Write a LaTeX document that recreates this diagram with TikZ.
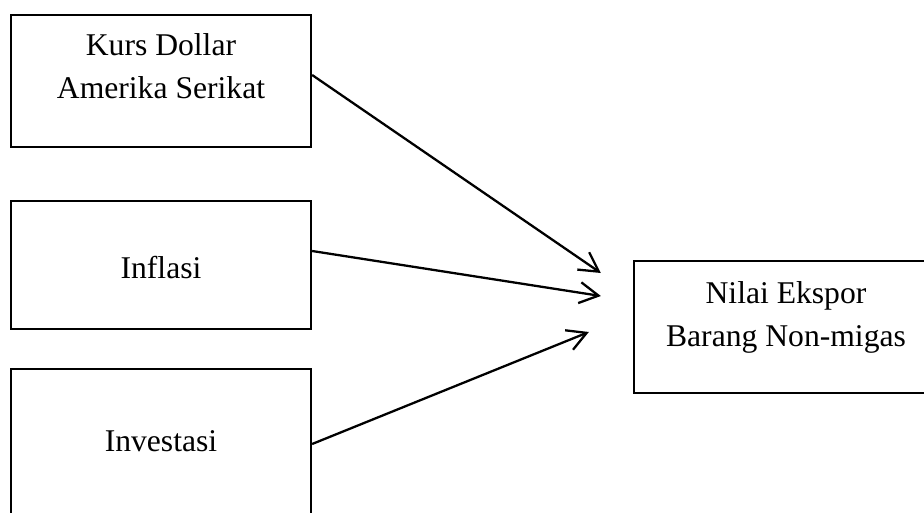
\documentclass[tikz,border=0pt]{standalone}
\usepackage{fontspec}
\setmainfont{Liberation Serif}
\usetikzlibrary{positioning,arrows.meta,calc}

\tikzset{
	box/.style={draw, line width=1.3pt, minimum width=6cm, minimum height=2.64cm, inner sep=0pt},
	boxtext/.style={inner sep=0pt, align=center, font=\fontsize{18pt}{24.8pt}\selectfont},
	arr/.style={line width=1.3pt, -{Straight Barb[length=0.38cm,width=0.42cm,line width=1.3pt]}}
}

\begin{document}
\begin{tikzpicture}
	\useasboundingbox (0,0) rectangle (18.48,10.24);
	\node[box] (kurs) at (3.22,8.62) {};
	\node[box, minimum height=2.56cm] (inflasi) at (3.22,4.94) {};
	\node[box, minimum height=3cm] (investasi) at (3.22,1.36) {};
	\node[box, minimum width=6.08cm] (nilai) at (15.72,3.70) {};
	\node[boxtext, below=0.38cm of kurs.north] (kurstext) {Kurs Dollar\\Amerika Serikat};
	\node[boxtext, below=1.12cm of inflasi.north] (inflasitext) {Inflasi};
	\node[boxtext, below=1.24cm of investasi.north] (investasitext) {Investasi};
	\node[boxtext, below=0.42cm of nilai.north] (nilaitext) {Nilai Ekspor\\Barang Non-migas};
	\draw[arr] ([yshift=0.12cm]kurs.east) -- ([shift={(-0.64cm,1.08cm)}]nilai.west);
	\draw[arr] ([yshift=0.28cm]inflasi.east) -- ([shift={(-0.64cm,0.62cm)}]nilai.west);
	\draw[arr] (investasi.east) -- ([shift={(-0.88cm,-0.1cm)}]nilai.west);
\end{tikzpicture}
\end{document}
